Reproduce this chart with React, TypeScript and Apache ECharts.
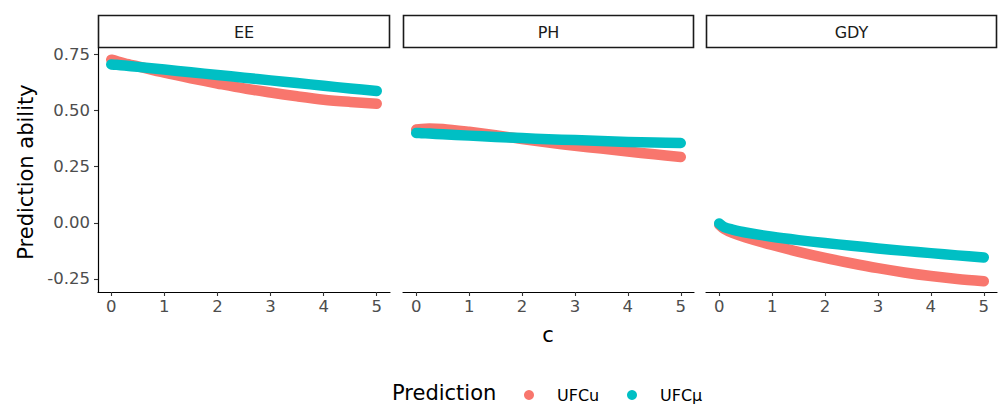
import React, { useEffect, useRef } from "react";
import * as echarts from "echarts";

const facets = ["EE", "PH", "GDY"];
const xs = [0, 0.1, 0.25, 0.5, 1, 1.5, 2, 2.5, 3, 3.5, 4, 4.5, 5];

const eeUFCu = [0.726, 0.72, 0.71, 0.696, 0.668, 0.643, 0.62, 0.598, 0.58, 0.563, 0.548, 0.538, 0.53];
const eeUFCmu = [0.705, 0.703, 0.7, 0.694, 0.682, 0.67, 0.658, 0.646, 0.634, 0.622, 0.61, 0.598, 0.587];
const phUFCu = [0.415, 0.418, 0.42, 0.418, 0.405, 0.39, 0.373, 0.357, 0.343, 0.33, 0.317, 0.305, 0.293];
const phUFCmu = [0.4, 0.399, 0.397, 0.394, 0.388, 0.382, 0.377, 0.372, 0.368, 0.364, 0.36, 0.357, 0.355];
const gdyUFCu = [-0.008, -0.028, -0.045, -0.065, -0.099, -0.129, -0.156, -0.18, -0.202, -0.221, -0.237, -0.25, -0.26];
const gdyUFCmu = [-0.003, -0.02, -0.03, -0.043, -0.062, -0.077, -0.09, -0.102, -0.114, -0.125, -0.135, -0.145, -0.154];

const xTicks = [0, 1, 2, 3, 4, 5];
const yTicks = [-0.25, 0, 0.25, 0.5, 0.75];
const seriesNames = ["UFCu", "UFCμ"];
const colors = ["#F8766D", "#00BFC4"];

const facetData = [
  [eeUFCu, eeUFCmu],
  [phUFCu, phUFCmu],
  [gdyUFCu, gdyUFCmu],
];

const FONT = "DejaVu Sans";

export default function App() {
  const ref = useRef<HTMLDivElement>(null);
  useEffect(() => {
    if (!ref.current) return;
    const chart = echarts.init(ref.current, null, { renderer: "svg" });
    const panels = [
      { left: 98, width: 292 },
      { left: 403, width: 291 },
      { left: 706, width: 291 },
    ];
    const top = 48;
    const height = 244;
    const grid = panels.map((p) => ({ left: p.left, width: p.width, top, height, containLabel: false }));
    const xAxis = panels.map((p, i) => ({
      type: "value",
      gridIndex: i,
      min: -0.25,
      max: 5.25,
      splitLine: { show: false },
      axisLine: { show: true, onZero: false, lineStyle: { color: "#000", width: 1.2 } },
      axisTick: { show: true, length: 4, customValues: xTicks, lineStyle: { color: "#333", width: 1.1 } },
      axisLabel: {
        show: true,
        customValues: xTicks,
        margin: 6,
        color: "#4D4D4D",
        fontFamily: FONT,
        fontSize: 16.5,
        formatter: (v: number) => String(v),
      },
    }));
    const yAxis = panels.map((p, i) => ({
      type: "value",
      gridIndex: i,
      min: -0.308,
      max: 0.778,
      splitLine: { show: false },
      axisLine: { show: i === 0, onZero: false, lineStyle: { color: "#000", width: 1.2 } },
      axisTick: { show: i === 0, length: 4, customValues: yTicks, lineStyle: { color: "#333", width: 1.1 } },
      axisLabel: {
        show: i === 0,
        customValues: yTicks,
        margin: 8,
        color: "#4D4D4D",
        fontFamily: FONT,
        fontSize: 16.5,
        formatter: (v: number) => v.toFixed(2),
      },
    }));
    const series: any[] = [];
    facetData.forEach((pair, fi) => {
      pair.forEach((vals, si) => {
        series.push({
          type: "line",
          name: seriesNames[si],
          xAxisIndex: fi,
          yAxisIndex: fi,
          data: xs.map((x, k) => [x, vals[k]]),
          smooth: 0.3,
          showSymbol: false,
          symbol: "none",
          lineStyle: { color: colors[si], width: 10.5, cap: "round", join: "round" },
          itemStyle: { color: colors[si] },
          z: 2 + si,
        });
      });
    });
    const graphic: any[] = [];
    panels.forEach((p, i) => {
      graphic.push({
        type: "rect",
        shape: { x: p.left + 0.5, y: 15.5, width: p.width - 1, height: 32 },
        style: { fill: "#fff", stroke: "#1A1A1A", lineWidth: 1.6 },
      });
      graphic.push({
        type: "text",
        x: p.left + p.width / 2,
        y: 32,
        style: {
          text: facets[i],
          fill: "#1A1A1A",
          font: `16px ${FONT}`,
          align: "center",
          verticalAlign: "middle",
        },
      });
    });
    graphic.push({
      type: "text",
      x: 548,
      y: 335,
      style: { text: "c", fill: "#000", font: `21px ${FONT}`, align: "center", verticalAlign: "middle" },
    });
    graphic.push({
      type: "text",
      x: 26,
      y: 172,
      rotation: Math.PI / 2,
      style: { text: "Prediction ability", fill: "#000", font: `21px ${FONT}`, align: "center", verticalAlign: "middle" },
    });
    graphic.push({
      type: "text",
      x: 392,
      y: 393,
      style: { text: "Prediction", fill: "#000", font: `21px ${FONT}`, align: "left", verticalAlign: "middle" },
    });
    const legendX = [529, 632];
    seriesNames.forEach((n, i) => {
      graphic.push({
        type: "circle",
        shape: { cx: legendX[i], cy: 395, r: 5 },
        style: { fill: colors[i] },
      });
      graphic.push({
        type: "text",
        x: legendX[i] + 28,
        y: 395,
        style: { text: n, fill: "#000", font: `16px ${FONT}`, align: "left", verticalAlign: "middle" },
      });
    });
    chart.setOption({
      animation: false,
      backgroundColor: "#fff",
      grid,
      xAxis,
      yAxis,
      series,
      graphic,
    });
    return () => chart.dispose();
  }, []);
  return <div ref={ref} style={{ position: "fixed", left: 0, top: 0, width: 998, height: 405 }} />;
}
